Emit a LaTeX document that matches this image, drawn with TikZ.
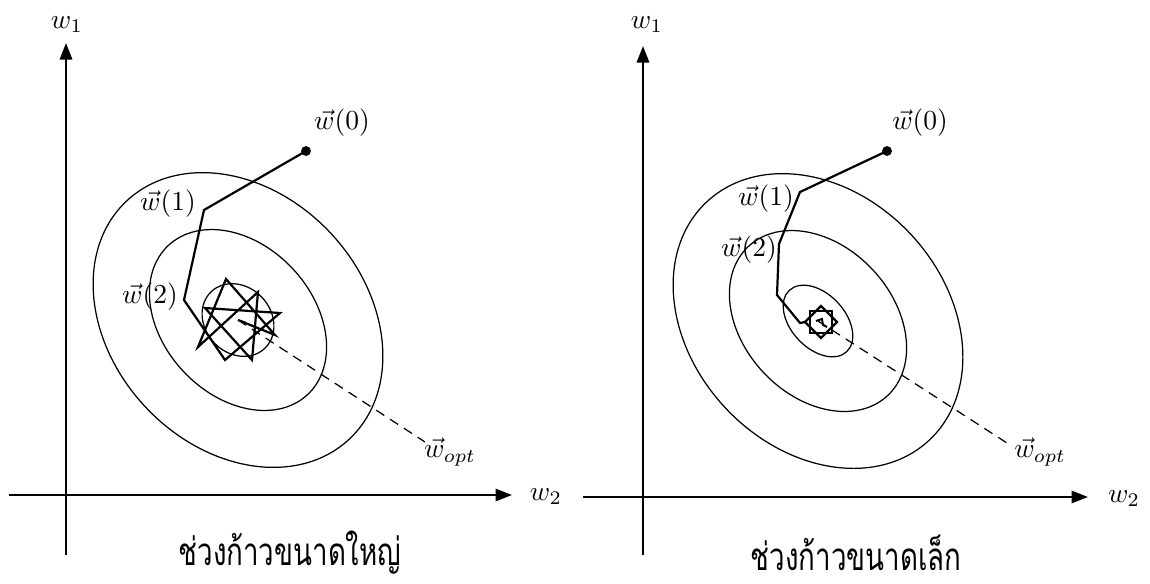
\documentclass[tikz,border=0pt]{standalone}
\usepackage{fontspec}
\newfontfamily\thaifont[Script=Thai,FakeStretch=0.72]{Loma}
\usetikzlibrary{arrows.meta,calc}
\begin{document}
\begin{tikzpicture}[x=0.3636pt,y=-0.3636pt,
  axisline/.style={line width=0.75pt,-{Triangle[length=6pt,width=4.5pt]}},
  contour/.style={line width=0.45pt},
  traj/.style={line width=0.8pt,line join=miter},
  optline/.style={line width=0.45pt,dash pattern=on 3.5pt off 2.5pt},
  dotnode/.style={circle,fill=black,inner sep=0pt,minimum size=3.6pt},
  lbl/.style={inner sep=0pt},
  caption/.style={inner sep=0pt,font=\thaifont\fontsize{14}{16}\selectfont}]
\useasboundingbox (0,0) rectangle (1150,584);

% ---------------- left panel ----------------
\coordinate (yL0) at (66,555);
\coordinate (yL1) at (66,43);
\coordinate (xL0) at (9,495);
\coordinate (xL1) at (512,495);
\draw[axisline] (yL0) -- (yL1);
\draw[axisline] (xL0) -- (xL1);
\node[lbl] (w1L) at (67,25) {$w_1$};
\node[lbl] (w2L) at (546,497) {$w_2$};

\coordinate (cL) at (238,320);
\draw[contour,rotate around={-47:(cL)}] (cL) ellipse [x radius=163,y radius=127];
\draw[contour,rotate around={-47:(cL)}] (cL) ellipse [x radius=102,y radius=75];
\draw[contour,rotate around={-47:(cL)}] (cL) ellipse [x radius=39,y radius=33];

\coordinate (optL) at (425,442);
\draw[optline] (cL) -- (optL);
\node[lbl] (woptL) at (450,452) {$\vec{w}_{opt}$};

\node[dotnode] (p0L) at (306,151) {};
\coordinate (p1L) at (204,210);
\coordinate (p2L) at (184,300);
\draw[traj] (p0L.center) -- (p1L) -- (p2L) -- (225,360) -- (280,313) -- (205,308)
  -- (252,360) -- (258,292) -- (198,347) -- (226,279) -- (275,335) -- (cL) -- (246,323);
\node[lbl] (l0L) at (342,123) {$\vec{w}(0)$};
\node[lbl] (l1L) at (168,204) {$\vec{w}(1)$};
\node[lbl] (l2L) at (150,297) {$\vec{w}(2)$};

\node[caption] (capL) at (290,553) {ช่วงก้าวขนาดใหญ่};

% ---------------- right panel ----------------
\coordinate (yR0) at (643,555);
\coordinate (yR1) at (643,46);
\coordinate (xR0) at (583,497);
\coordinate (xR1) at (1088,497);
\draw[axisline] (yR0) -- (yR1);
\draw[axisline] (xR0) -- (xR1);
\node[lbl] (w1R) at (647,25) {$w_1$};
\node[lbl] (w2R) at (1124,499) {$w_2$};

\coordinate (cR) at (818,321);
\draw[contour,rotate around={-47:(cR)}] (cR) ellipse [x radius=163,y radius=127];
\draw[contour,rotate around={-47:(cR)}] (cR) ellipse [x radius=102,y radius=75];
\draw[contour,rotate around={-47:(cR)}] (cR) ellipse [x radius=42,y radius=27];

\coordinate (optR) at (1007,443);
\draw[optline] (cR) -- (optR);
\node[lbl] (woptR) at (1040,452) {$\vec{w}_{opt}$};

\node[dotnode] (p0R) at (887,151) {};
\coordinate (p1R) at (800,192);
\coordinate (p2R) at (779,244);
\coordinate (sR) at (821,322);
\draw[traj] (p0R.center) -- (p1R) -- (p2R) -- (777,295) -- (800,323) -- ($(sR)+(180:16)$);
\draw[traj] ($(sR)+(0:16)$) -- ($(sR)+(90:16)$) -- ($(sR)+(180:16)$) -- ($(sR)+(270:16)$) -- cycle;
\draw[traj] ($(sR)+(45:16)$) -- ($(sR)+(135:16)$) -- ($(sR)+(225:16)$) -- ($(sR)+(315:16)$) -- cycle;
\draw[line width=0.7pt] (816,321) -- (822,319) -- (823,325) -- (827,327);
\node[lbl] (l0R) at (920,123) {$\vec{w}(0)$};
\node[lbl] (l1R) at (766,199) {$\vec{w}(1)$};
\node[lbl] (l2R) at (749,250) {$\vec{w}(2)$};

\node[caption] (capR) at (856,553) {ช่วงก้าวขนาดเล็ก};
\end{tikzpicture}
\end{document}
